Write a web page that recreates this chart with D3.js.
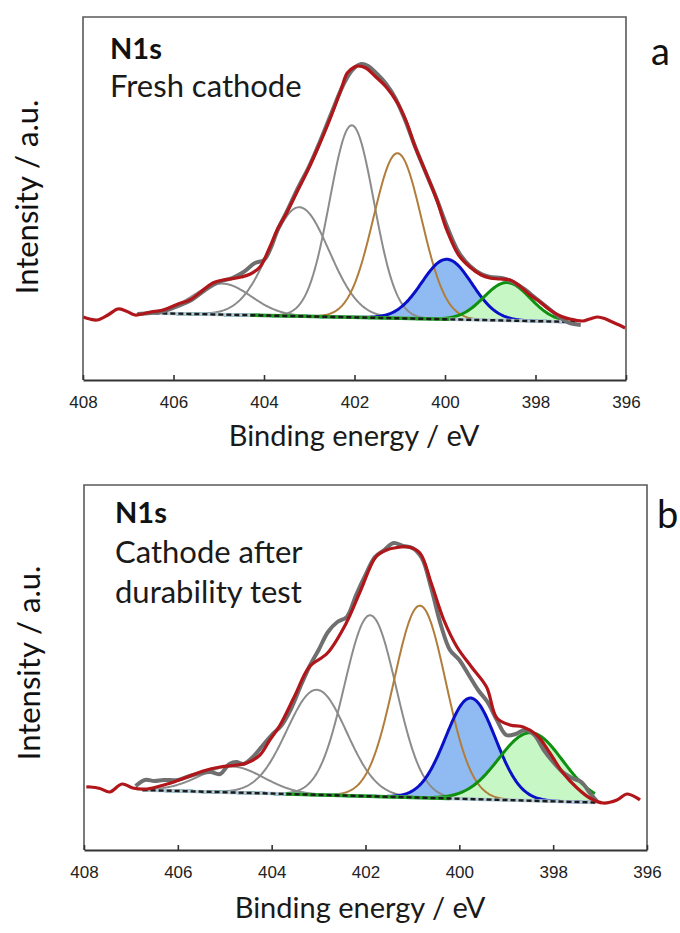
<!DOCTYPE html>
<html><head><meta charset="utf-8">
<script src="https://cdn.jsdelivr.net/npm/d3@7/dist/d3.min.js"></script>
<style>body{margin:0;background:#fff}svg{display:block}</style>
</head><body>
<svg id="chart" width="680" height="933"></svg>
<script>
// ---------- data ----------
const xTickValues = [408, 406, 404, 402, 400, 398, 396];
const xDomain = [408, 396];
const componentKinds = ["gray", "gray", "gray", "brown", "blue", "green"];

// Panel a : fresh cathode
const aTitle = ["N1s", "Fresh cathode"];
const aEnvelope = [[408.0,63],[407.85,61],[407.69,60],[407.45,65],[407.23,71],[407.05,69],[406.85,65],[406.5,68],[406.23,70],[405.9,76],[405.64,80],[405.4,88],[405.13,97],[404.9,100],[404.75,101],[404.5,103],[404.3,106],[404.09,113],[403.87,133],[403.71,150],[403.5,167],[403.25,190],[403.03,210],[402.8,233],[402.55,260],[402.3,290],[402.16,307],[402.0,313],[401.92,314],[401.75,312],[401.55,304],[401.3,293],[401.05,277],[400.85,258],[400.66,233],[400.4,205],[400.18,180],[399.96,150],[399.7,125],[399.45,113],[399.2,105],[399.01,102],[398.8,101],[398.56,100],[398.35,94],[398.12,85],[397.9,78],[397.68,70],[397.45,64],[397.24,61],[396.95,59],[396.8,61],[396.62,63],[396.45,61],[396.35,59],[396.15,55],[396.02,52]];
const aRaw = [[406.8,66],[406.5,67],[406.2,69],[405.9,74],[405.6,80],[405.3,90],[405.0,98],[404.7,102],[404.45,108],[404.2,117],[404.0,120],[403.85,132],[403.7,150],[403.5,168],[403.25,192],[403.0,214],[402.75,240],[402.5,268],[402.25,295],[402.05,310],[401.85,316],[401.7,314],[401.5,306],[401.3,296],[401.1,282],[400.9,262],[400.7,238],[400.45,210],[400.2,183],[399.95,153],[399.7,128],[399.45,114],[399.2,106],[399.0,103],[398.75,102],[398.5,98],[398.25,91],[398.0,82],[397.75,73],[397.5,64],[397.25,57],[397.0,55]];
const aBaselineE = [406.6, 397.1];
const aBaselineI = [67, 58];
const aPeakCenter = [404.92, 403.22, 402.06, 401.05, 399.96, 398.63];
const aPeakHeight = [31, 109, 192, 165, 60, 38];
const aPeakFwhm = [1.5, 1.55, 1.15, 1.25, 1.3, 1.2];

// Panel b : cathode after durability test
const bTitle = ["N1s", "Cathode after", "durability test"];
const bEnvelope = [[407.95,63],[407.87,63],[407.66,61.5],[407.45,58],[407.19,66],[406.96,62],[406.66,61],[406.23,66],[405.8,73],[405.46,79],[405.1,83],[404.74,85],[404.53,87],[404.25,95],[404.04,110],[403.82,125],[403.5,155],[403.2,183],[402.81,197],[402.41,227],[402.1,260],[401.78,293],[401.55,300],[401.39,302],[401.08,303],[400.84,297],[400.6,267],[400.33,230],[400.05,203],[399.74,183],[399.42,163],[399.2,132],[398.92,125],[398.64,123],[398.35,115],[398.07,97],[397.79,77],[397.49,62],[397.22,52],[396.94,47],[396.64,50],[396.43,56],[396.21,52],[396.15,50]];
const bRaw = [[406.9,64],[406.7,70],[406.5,69],[406.3,70],[406.0,70],[405.75,74],[405.5,77],[405.3,78],[405.1,76],[404.9,86],[404.75,88],[404.6,86],[404.4,93],[404.2,104],[404.0,115],[403.8,124],[403.6,140],[403.4,162],[403.2,183],[403.0,200],[402.8,218],[402.6,228],[402.4,233],[402.2,255],[402.0,275],[401.8,293],[401.6,300],[401.4,307],[401.2,304],[401.0,302],[400.8,292],[400.6,262],[400.4,226],[400.2,200],[400.0,190],[399.8,175],[399.6,160],[399.4,148],[399.2,130],[399.0,115],[398.8,116],[398.6,120],[398.4,115],[398.2,100],[398.0,88],[397.8,78],[397.6,72],[397.4,68],[397.2,56],[397.05,48]];
const bBaselineE = [406.75, 397.1];
const bBaselineI = [60, 47.5];
const bPeakCenter = [404.85, 403.04, 401.9, 400.84, 399.76, 398.48];
const bPeakHeight = [26, 105, 181, 192, 101, 68];
const bPeakFwhm = [1.6, 1.5, 1.3, 1.3, 1.25, 1.6];

// ---------- drawing ----------
const svg = d3.select("#chart");
const FONT = "Lato, 'Open Sans', sans-serif";
const strokeOf = {gray: "#8c8c8c", brown: "#b07d3a", blue: "#0a10c8", green: "#109010"};
const widthOf = {gray: 2, brown: 2, blue: 3, green: 3};
const fillOf = {blue: "#8fbbf2", green: "#c8f7c6"};

function drawPanel(p) {
  const x = d3.scaleLinear().domain(xDomain).range([p.left, p.right]);
  const y = d3.scaleLinear().domain([0, p.ymax]).range([p.bottom, p.top]);
  const base = d3.scaleLinear().domain(p.baseE).range(p.baseI);
  const g = svg.append("g");

  const grid = d3.range(p.baseE[0], p.baseE[1] - 0.001, -0.02);
  const comp = (i) => (E) => base(E) + p.height[i] * Math.exp(-4 * Math.LN2 * Math.pow(E - p.center[i], 2) / (p.fwhm[i] * p.fwhm[i]));

  // fills (blue then green)
  ["blue", "green"].forEach(kind => {
    const i = componentKinds.indexOf(kind);
    const f = comp(i);
    g.append("path").datum(grid)
      .attr("d", d3.area().x(E => x(E)).y0(E => y(base(E))).y1(E => y(f(E))))
      .attr("fill", fillOf[kind]).attr("stroke", "none");
  });

  // component strokes
  componentKinds.forEach((kind, i) => {
    const f = comp(i);
    g.append("path").datum(grid)
      .attr("d", d3.line().x(E => x(E)).y(E => y(f(E))))
      .attr("fill", "none").attr("stroke", strokeOf[kind]).attr("stroke-width", widthOf[kind]);
  });

  // baseline
  const baseLine = d3.line().x(E => x(E)).y(E => y(base(E)));
  g.append("path").datum(p.baseE).attr("d", baseLine)
    .attr("stroke", "#b4cbd8").attr("stroke-width", 3.5).attr("fill", "none");
  g.append("path").datum(p.greenSeg).attr("d", baseLine)
    .attr("stroke", "#22a022").attr("stroke-width", 3.5).attr("fill", "none");
  g.append("path").datum(p.baseE).attr("d", baseLine)
    .attr("stroke", "#1a1a1a").attr("stroke-width", 2.4).attr("stroke-dasharray", "5,3").attr("fill", "none");

  // raw spectrum and envelope
  const line = d3.line().x(d => x(d[0])).y(d => y(d[1])).curve(d3.curveCatmullRom.alpha(0.5));
  g.append("path").datum(p.raw).attr("d", line)
    .attr("fill", "none").attr("stroke", "#6f6f6f").attr("stroke-width", 4).attr("stroke-linejoin", "round");
  g.append("path").datum(p.env).attr("d", line)
    .attr("fill", "none").attr("stroke", "#b0161a").attr("stroke-width", 3.2).attr("stroke-linejoin", "round");

  // frame
  g.append("path")
    .attr("d", `M${p.left},${p.bottom}V${p.top}H${p.right}V${p.bottom}`)
    .attr("fill", "none").attr("stroke", "#5a5a5a").attr("stroke-width", 1.6);

  // x axis
  const ax = g.append("g").attr("transform", `translate(0,${p.bottom})`)
    .call(d3.axisBottom(x).tickValues(xTickValues).tickFormat(d3.format("d")).tickSize(-5).tickSizeOuter(0).tickPadding(16));
  ax.select(".domain").attr("stroke", "#333").attr("stroke-width", 2.2);
  ax.selectAll(".tick line").attr("stroke", "#333").attr("stroke-width", 1.6);
  ax.selectAll(".tick text").attr("font-family", "'Liberation Sans', Arial, sans-serif")
    .attr("font-size", 17).attr("fill", "#222");

  // texts
  g.append("text").attr("x", p.titleX).attr("y", p.titleY[0]).text(p.title[0])
    .attr("font-family", FONT).attr("font-weight", 700).attr("font-size", 29).attr("fill", "#111");
  p.title.slice(1).forEach((t, k) => {
    g.append("text").attr("x", p.titleX).attr("y", p.titleY[k + 1]).text(t)
      .attr("font-family", FONT).attr("font-size", 31).attr("fill", "#1a1a1a");
  });
  g.append("text").attr("x", p.letterX).attr("y", p.letterY).text(p.letter)
    .attr("font-family", FONT).attr("font-size", 38).attr("fill", "#111");
  g.append("text").attr("x", p.xTitleX).attr("y", p.xTitleY).attr("text-anchor", "middle")
    .text("Binding energy / eV").attr("font-family", FONT).attr("font-size", 29).attr("fill", "#1a1a1a");
  g.append("text").attr("transform", `translate(${p.yTitleX},${p.yTitleY}) rotate(-90)`)
    .attr("text-anchor", "middle").text("Intensity / a.u.")
    .attr("font-family", FONT).attr("font-size", 31).attr("fill", "#111");
}

drawPanel({
  left: 83, right: 626, top: 17, bottom: 380, ymax: 363,
  env: aEnvelope, raw: aRaw, baseE: aBaselineE, baseI: aBaselineI, greenSeg: [404.3, 399.9],
  center: aPeakCenter, height: aPeakHeight, fwhm: aPeakFwhm,
  title: aTitle, titleX: 110, titleY: [59, 97],
  letter: "a", letterX: 651, letterY: 65,
  xTitleX: 354, xTitleY: 446, yTitleX: 38, yTitleY: 197
});
drawPanel({
  left: 84, right: 647, top: 485, bottom: 850, ymax: 365,
  env: bEnvelope, raw: bRaw, baseE: bBaselineE, baseI: bBaselineI, greenSeg: [403.7, 400.2],
  center: bPeakCenter, height: bPeakHeight, fwhm: bPeakFwhm,
  title: bTitle, titleX: 115, titleY: [523, 563, 603],
  letter: "b", letterX: 657, letterY: 528,
  xTitleX: 360, xTitleY: 918, yTitleX: 40, yTitleY: 663
});
</script>
</body></html>
